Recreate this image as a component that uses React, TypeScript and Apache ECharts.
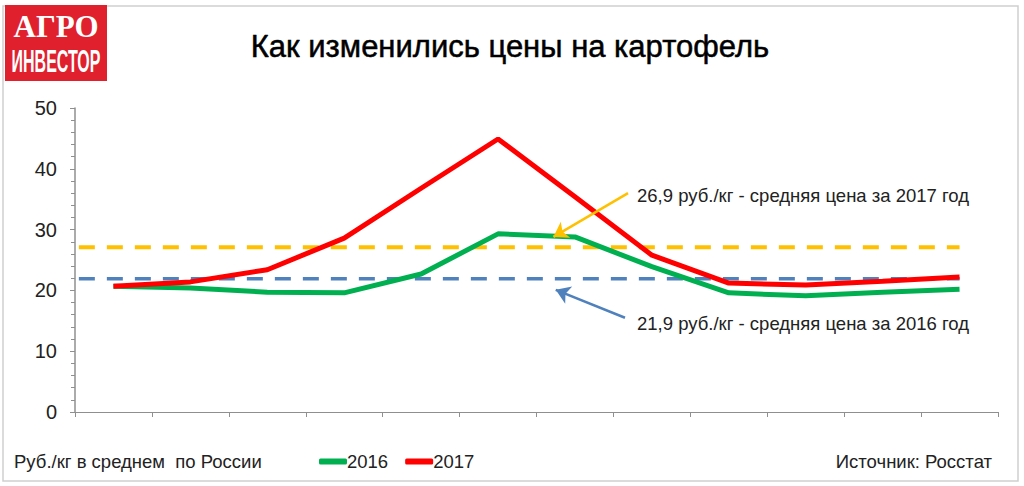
import React, { useEffect, useRef } from "react";
import * as echarts from "echarts";

const months = ["Янв", "Фев", "Мар", "Апр", "Май", "Июн", "Июл", "Авг", "Сен", "Окт", "Ноя", "Дек"];
const prices2016 = [20.7, 20.4, 19.7, 19.6, 22.7, 29.3, 28.8, 23.9, 19.6, 19.1, 19.7, 20.2];
const prices2017 = [20.7, 21.4, 23.4, 28.6, 36.8, 44.9, 35.4, 25.8, 21.2, 20.9, 21.5, 22.2];
const avg2016 = 21.9;
const avg2017 = 27.1;
const avgLabel2016 = "21,9 руб./кг - средняя цена за 2016 год";
const avgLabel2017 = "26,9 руб./кг - средняя цена за 2017 год";
const yTicks = { min: 0, max: 50, interval: 10 };
const xRange = { min: -0.5, max: 11.5 };
const avgSpan = [-0.45, 11];
const arrow2017 = [[6.69, 36.0], [5.72, 28.8]];
const arrow2016 = [[6.65, 15.5], [5.75, 20.1]];

const FONT = "Arial, 'Liberation Sans', sans-serif";
const AXIS = "#8f8f8f";

export default function App() {
  const ref = useRef<HTMLDivElement>(null);
  useEffect(() => {
    if (!ref.current) return;
    const chart = echarts.init(ref.current, null, { renderer: "svg" });
    chart.setOption({
      animation: false,
      backgroundColor: "#fff",
      textStyle: { fontFamily: FONT },
      grid: { left: 75, right: 26, top: 108, bottom: 74, containLabel: false },
      legend: {
        left: 314,
        top: 447,
        itemWidth: 28,
        itemHeight: 6,
        itemGap: 17,
        icon: "roundRect",
        textStyle: { fontSize: 18.5, color: "#222", fontFamily: FONT, padding: [0, 0, 0, -5] },
        data: ["2016", "2017"],
      },
      xAxis: [
        {
          type: "category",
          data: months,
          boundaryGap: true,
          position: "bottom",
          axisLine: { show: true, onZero: false, lineStyle: { color: AXIS, width: 1.2 } },
          axisTick: { show: true, interval: 0, length: 5, lineStyle: { color: AXIS } },
          axisLabel: { show: false },
          splitLine: { show: false },
        },
        { type: "value", min: xRange.min, max: xRange.max, show: false, position: "top" },
      ],
      yAxis: [
        {
          type: "value",
          position: "left",
          min: yTicks.min,
          max: yTicks.max,
          interval: yTicks.interval,
          axisLine: { show: true, onZero: false, lineStyle: { color: AXIS, width: 1.5 } },
          axisTick: { show: true, length: 5, lineStyle: { color: AXIS } },
          minorTick: { show: true, splitNumber: 5, length: 4, lineStyle: { color: AXIS } },
          axisLabel: { fontSize: 20, color: "#222", margin: 18, fontFamily: FONT },
          splitLine: { show: false },
        },
      ],
      series: [
        {
          name: "2017 avg",
          type: "line",
          xAxisIndex: 1,
          yAxisIndex: 0,
          data: avgSpan.map((x) => [x, avg2017]),
          symbol: "none",
          lineStyle: { color: "#ffc000", width: 4, type: [16, 12] },
          silent: true,
          z: 1,
          markLine: {
            silent: true,
            symbol: ["none", "arrow"],
            symbolSize: [14, 14],
            label: { show: false },
            lineStyle: { color: "#ffc000", width: 2.5, type: "solid" },
            data: [[{ coord: arrow2017[0] }, { coord: arrow2017[1] }]],
          },
        },
        {
          name: "2016 avg",
          type: "line",
          xAxisIndex: 1,
          yAxisIndex: 0,
          data: avgSpan.map((x) => [x, avg2016]),
          symbol: "none",
          lineStyle: { color: "#4f81bd", width: 3.5, type: [16, 12] },
          silent: true,
          z: 1,
          markLine: {
            silent: true,
            symbol: ["none", "arrow"],
            symbolSize: [14, 14],
            label: { show: false },
            lineStyle: { color: "#4f81bd", width: 2.5, type: "solid" },
            data: [[{ coord: arrow2016[0] }, { coord: arrow2016[1] }]],
          },
        },
        {
          name: "2016",
          type: "line",
          data: prices2016,
          symbol: "none",
          color: "#00b050",
          lineStyle: { color: "#00b050", width: 5 },
          z: 3,
        },
        {
          name: "2017",
          type: "line",
          data: prices2017,
          symbol: "none",
          color: "#ff0000",
          lineStyle: { color: "#ff0000", width: 5 },
          z: 4,
        },
      ],
      graphic: [
        {
          type: "rect",
          shape: { x: 3, y: 6, width: 1015, height: 475 },
          style: { fill: "none", stroke: "#cfcfcf", lineWidth: 1.5 },
          silent: true,
          z: 0,
        },
        {
          type: "rect",
          shape: { x: 5, y: 5, width: 102, height: 76 },
          style: { fill: "#e0202d" },
          z: 10,
        },
        {
          type: "text",
          x: 56,
          y: 26,
          style: {
            text: "АГРО",
            fill: "#fff",
            font: "bold 31px 'Liberation Serif', 'DejaVu Serif', serif",
            textAlign: "center",
            textVerticalAlign: "middle",
          },
          z: 11,
        },
        {
          type: "text",
          x: 56,
          y: 61,
          scaleX: 0.5,
          style: {
            text: "ИНВЕСТОР",
            fill: "#fff",
            font: "bold 32px 'Liberation Sans', Arial, sans-serif",
            textAlign: "center",
            textVerticalAlign: "middle",
          },
          z: 11,
        },
        {
          type: "text",
          x: 510,
          y: 46,
          style: {
            text: "Как изменились цены на картофель",
            fill: "#000",
            font: "31px Arial, 'Liberation Sans', sans-serif",
            textAlign: "center",
            textVerticalAlign: "middle",
            stroke: "#000",
            lineWidth: 0.5,
          },
        },
        {
          type: "text",
          x: 637,
          y: 195,
          style: {
            text: avgLabel2017,
            fill: "#222",
            font: "18.5px Arial, 'Liberation Sans', sans-serif",
            textVerticalAlign: "middle",
          },
        },
        {
          type: "text",
          x: 637,
          y: 323,
          style: {
            text: avgLabel2016,
            fill: "#222",
            font: "18.5px Arial, 'Liberation Sans', sans-serif",
            textVerticalAlign: "middle",
          },
        },
        {
          type: "text",
          x: 14,
          y: 461,
          style: {
            text: "Руб./кг в среднем  по России",
            fill: "#222",
            font: "18.5px Arial, 'Liberation Sans', sans-serif",
            textVerticalAlign: "middle",
          },
        },
        {
          type: "text",
          x: 992,
          y: 461,
          style: {
            text: "Источник: Росстат",
            fill: "#222",
            font: "18.5px Arial, 'Liberation Sans', sans-serif",
            textAlign: "right",
            textVerticalAlign: "middle",
          },
        },
      ],
    });
    return () => chart.dispose();
  }, []);
  return (
    <div
      ref={ref}
      style={{ position: "fixed", left: 0, top: 0, width: 1024, height: 486, background: "#fff" }}
    />
  );
}
